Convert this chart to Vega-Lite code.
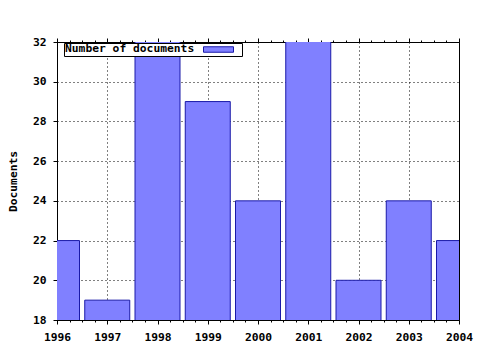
{
  "$schema": "https://vega.github.io/schema/vega-lite/v6.json",
  "width": 402,
  "height": 278,
  "autosize": "none",
  "padding": {"left": 57, "top": 42, "right": 21, "bottom": 30},
  "background": "white",
  "config": {
    "view": {"stroke": "black", "strokeWidth": 1},
    "font": "DejaVu Sans Mono",
    "axis": {
      "labelFont": "DejaVu Sans Mono",
      "labelFontWeight": "bold",
      "labelFontSize": 11.3,
      "labelColor": "black",
      "titleFont": "DejaVu Sans Mono",
      "titleFontWeight": "bold",
      "titleFontSize": 11.3,
      "titleColor": "black",
      "domainColor": "black",
      "tickColor": "black",
      "tickSize": 4,
      "gridColor": "black",
      "gridDash": [1, 3],
      "gridOpacity": 1,
      "gridWidth": 1
    }
  },
  "data": {
    "values": [
      {"year": 1996, "documents": 22},
      {"year": 1997, "documents": 19},
      {"year": 1998, "documents": 33},
      {"year": 1999, "documents": 29},
      {"year": 2000, "documents": 24},
      {"year": 2001, "documents": 33},
      {"year": 2002, "documents": 20},
      {"year": 2003, "documents": 24},
      {"year": 2004, "documents": 22}
    ]
  },
  "resolve": {"axis": {"x": "independent"}},
  "layer": [
    {
      "mark": {"type": "bar", "width": 45, "clip": true, "fill": "#8080ff", "stroke": "#1a1aa8", "strokeWidth": 1, "orient": "vertical"},
      "encoding": {
        "x": {
          "field": "year",
          "type": "quantitative",
          "scale": {"domain": [1996, 2004], "nice": false, "zero": false, "padding": 0},
          "axis": {"title": null, "orient": "bottom", "values": [1996, 1997, 1998, 1999, 2000, 2001, 2002, 2003, 2004], "format": "d", "labelPadding": 7, "labelFlush": false, "grid": true}
        },
        "y": {
          "field": "documents",
          "type": "quantitative",
          "scale": {"domain": [18, 32], "nice": false, "zero": false, "padding": 0},
          "axis": {"title": "Documents", "values": [18, 20, 22, 24, 26, 28, 30, 32], "labelPadding": 7, "titlePadding": 14, "grid": true}
        },
        "color": {
          "datum": "Number of documents",
          "type": "nominal",
          "scale": {"range": ["#8080ff"]},
          "legend": {
            "title": "Number of documents",
            "titleOrient": "left",
            "titleFont": "DejaVu Sans Mono",
            "titleFontWeight": "bold",
            "titleFontSize": 11.3,
            "titleColor": "black",
            "titleBaseline": "middle",
            "titleAnchor": "middle",
            "titlePadding": 18,
            "orient": "none",
            "legendX": 7,
            "legendY": 1,
            "padding": 1,
            "fillColor": "white",
            "strokeColor": "black",
            "labelExpr": "''",
            "labelOffset": 17,
            "labelFontSize": 1,
            "symbolType": "M-3,-0.55H3V0.55H-3Z",
            "symbolSize": 100,
            "symbolStrokeColor": "#1a1aa8",
            "symbolStrokeWidth": 1,
            "symbolFillColor": "#8080ff",
            "symbolOpacity": 1
          }
        }
      }
    },
    {
      "mark": {"type": "point", "opacity": 0, "clip": true},
      "encoding": {
        "x": {
          "field": "year",
          "type": "quantitative",
          "axis": {"title": null, "orient": "bottom", "values": [1996.25, 1996.5, 1996.75, 1997.25, 1997.5, 1997.75, 1998.25, 1998.5, 1998.75, 1999.25, 1999.5, 1999.75, 2000.25, 2000.5, 2000.75, 2001.25, 2001.5, 2001.75, 2002.25, 2002.5, 2002.75, 2003.25, 2003.5, 2003.75], "labels": false, "domain": false, "grid": false, "tickSize": 2}
        }
      }
    },
    {
      "mark": {"type": "point", "opacity": 0, "clip": true},
      "encoding": {
        "x": {
          "field": "year",
          "type": "quantitative",
          "axis": {"title": null, "orient": "top", "values": [1996, 1997, 1998, 1999, 2000, 2001, 2002, 2003, 2004], "labels": false, "domain": false, "grid": false, "tickSize": 4}
        }
      }
    },
    {
      "mark": {"type": "point", "opacity": 0, "clip": true},
      "encoding": {
        "x": {
          "field": "year",
          "type": "quantitative",
          "axis": {"title": null, "orient": "top", "values": [1996.25, 1996.5, 1996.75, 1997.25, 1997.5, 1997.75, 1998.25, 1998.5, 1998.75, 1999.25, 1999.5, 1999.75, 2000.25, 2000.5, 2000.75, 2001.25, 2001.5, 2001.75, 2002.25, 2002.5, 2002.75, 2003.25, 2003.5, 2003.75], "labels": false, "domain": false, "grid": false, "tickSize": 2}
        }
      }
    }
  ]
}
